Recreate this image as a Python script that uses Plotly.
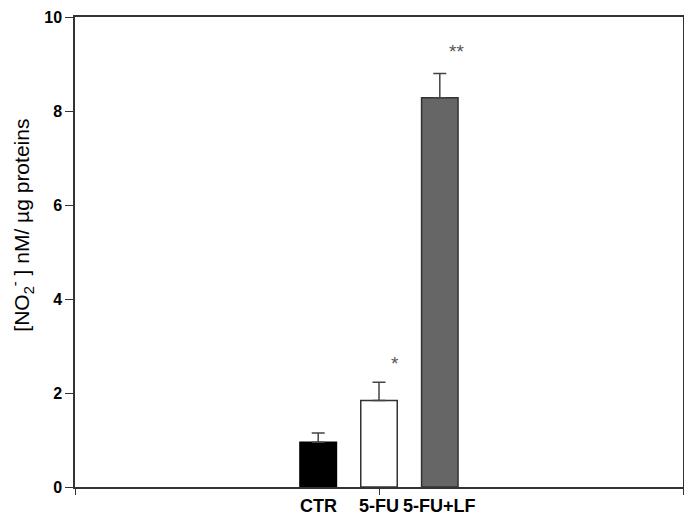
import plotly.graph_objects as go

categories = ["CTR", "5-FU", "5-FU+LF"]
means = [0.95, 1.84, 8.28]
errors = [0.20, 0.39, 0.52]
star_labels = ["", "*", "**"]
star_y = [None, 2.62, 9.26]
y_ticks = [0, 2, 4, 6, 8, 10]

x_pos = list(range(len(categories)))
fill_colors = ["#000000", "#ffffff", "#666666"]
line_colors = ["#000000", "#333333", "#333333"]
FONT = "Liberation Sans, Arial"

fig = go.Figure()
for i, cat in enumerate(categories):
    fig.add_trace(go.Bar(
        x=[x_pos[i]], y=[means[i]], width=0.6,
        marker=dict(color=fill_colors[i], line=dict(color=line_colors[i], width=1.5)),
        error_y=dict(type="data", symmetric=False, array=[errors[i]], arrayminus=[0],
                     color="#444444", thickness=1.5, width=6.5),
        name=cat, showlegend=False,
    ))

for i, cat in enumerate(categories):
    fig.add_annotation(x=x_pos[i], y=0, xref="x", yref="y", yshift=-7, text=f"<b>{cat}</b>",
                       showarrow=False, yanchor="top",
                       font=dict(family=FONT, size=18, color="#000000"))
    if star_labels[i]:
        fig.add_annotation(x=x_pos[i] + 0.27, y=star_y[i], xref="x", yref="y", text=star_labels[i],
                           showarrow=False, font=dict(family=FONT, size=19, color="#555555"))

# y axis title
fig.add_annotation(x=0, y=0.556, xref="paper", yref="paper", xshift=-53,
                   text="[NO<sub>2</sub><sup>-</sup> ] nM/ µg proteins", textangle=-90,
                   showarrow=False, xanchor="center", yanchor="middle",
                   font=dict(family=FONT, size=21, color="#000000"))

# page body has an 8px margin: figure sized/offset accordingly
fig.update_layout(
    width=684, height=507,
    margin=dict(l=67, r=9, t=9, b=28, autoexpand=False),
    plot_bgcolor="white", paper_bgcolor="white",
    font=dict(family=FONT, color="#000000"),
)
fig.update_xaxes(range=[-4, 6], tickvals=[-4, 1, 6], ticktext=["", "", ""],
                 ticks="outside", ticklen=6, tickwidth=1.3, tickcolor="#333333",
                 showline=True, linecolor="#333333", linewidth=1.5, mirror=True,
                 showgrid=False, zeroline=False, automargin=False)
fig.update_yaxes(range=[0, 10], tickvals=y_ticks, ticktext=[f"<b>{v}</b>" for v in y_ticks],
                 ticks="outside", ticklen=8, tickwidth=1.3, tickcolor="#333333",
                 tickfont=dict(size=16, family=FONT),
                 showline=True, linecolor="#333333", linewidth=1.5, mirror=True,
                 showgrid=False, zeroline=False, automargin=False)

fig.write_html("out.html")
